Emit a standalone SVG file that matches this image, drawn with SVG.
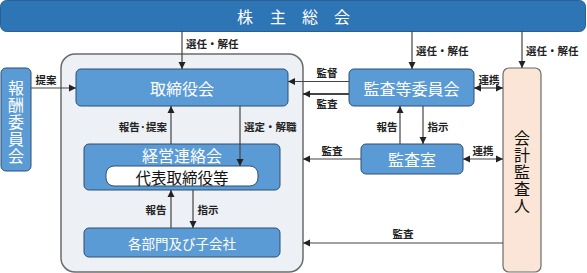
<svg xmlns="http://www.w3.org/2000/svg" width="587" height="273" viewBox="0 0 587 273">
<defs>
<marker id="ah" markerWidth="8" markerHeight="8" refX="7" refY="4" orient="auto-start-reverse" markerUnits="userSpaceOnUse">
<path d="M0,0.5 L7,4 L0,7.5 Z" fill="#222"/>
</marker>
<style>
text{font-family:"Noto Sans CJK JP","Noto Sans",sans-serif;dominant-baseline:central}
.node{fill:#5b9bd5;stroke:#2f4f70;stroke-width:1}
.nt{fill:#fff;font-size:16px;text-anchor:middle}
.vt{writing-mode:vertical-rl;text-orientation:upright;letter-spacing:1px;text-anchor:middle;font-size:16px}
.lbl{fill:#222;font-size:10.5px;font-weight:bold}
.c{text-anchor:middle}
.ln{stroke:#444;stroke-width:1.2;fill:none;marker-end:url(#ah)}
.both{marker-start:url(#ah)}
</style>
</defs>
<g id="shareholders">
<rect x="0.5" y="0.5" width="585" height="31" rx="6" fill="#2e75b6" stroke="#2a5f93"/>
<text class="nt" style="text-anchor:start" x="237 253 270 286 302 318 334" y="16">株 主 総 会</text>
</g>
<g id="company">
<rect x="61" y="54" width="242" height="218" rx="14" fill="#edf0f4" stroke="#6b6b6b" stroke-width="1.5"/>
</g>
<g id="board">
<rect class="node" x="76" y="69" width="212" height="37" rx="5"/>
<text class="nt" x="182" y="87.5">取締役会</text>
</g>
<g id="mgmt">
<rect class="node" x="84" y="144" width="196" height="46" rx="5"/>
<text class="nt" x="182" y="154.5">経営連絡会</text>
<rect x="106" y="166" width="152" height="20" rx="8" fill="#fff" stroke="#2f4f70"/>
<text x="182" y="177" style="font-size:15.5px;text-anchor:middle;fill:#111">代表取締役等</text>
</g>
<g id="depts">
<rect class="node" x="84" y="228" width="196" height="29" rx="5"/>
<text class="nt" x="182" y="242.5" style="font-size:13.5px">各部門及び子会社</text>
</g>
<g id="comp">
<rect class="node" x="1" y="68" width="30" height="103" rx="5"/>
<text class="vt" x="16" y="122.5" fill="#fff">報酬委員会</text>
</g>
<g id="audit-committee">
<rect class="node" x="349" y="69" width="125" height="37" rx="5"/>
<text class="nt" x="411.5" y="87.5">監査等委員会</text>
</g>
<g id="audit-office">
<rect class="node" x="361" y="144" width="102" height="30" rx="5"/>
<text class="nt" x="412" y="159">監査室</text>
</g>
<g id="auditor">
<rect x="503" y="68" width="38" height="204" rx="6" fill="#fbe5d6" stroke="#6b6b6b" stroke-width="1.2"/>
<text class="vt" x="522" y="172.5" fill="#111">会計監査人</text>
</g>
<g id="connectors">
<path class="ln" d="M182,31 V69"/>
<path class="ln" d="M412,31 V69"/>
<path class="ln" d="M522,31 V68"/>
<path class="ln" d="M31,88 H76"/>
<path class="ln" d="M349,81.5 H288"/>
<path class="ln" d="M349,94 H303" style="stroke-width:2"/>
<path class="ln both" d="M474,88 H503"/>
<path class="ln" d="M400,144 V106"/>
<path class="ln" d="M423,106 V144"/>
<path class="ln" d="M361,159 H303"/>
<path class="ln both" d="M463,159 H503"/>
<path class="ln" d="M503,243 H303"/>
<path class="ln" d="M171,144 V106"/>
<path class="ln" d="M240,106 V166"/>
<path class="ln" d="M171,228 V190"/>
<path class="ln" d="M193,190 V228"/>
<text class="lbl" x="186" y="43">選任・解任</text>
<text class="lbl" x="416" y="50">選任・解任</text>
<text class="lbl" x="526" y="50">選任・解任</text>
<text class="lbl c" x="46" y="79">提案</text>
<text class="lbl c" x="327" y="72.5">監督</text>
<text class="lbl c" x="327" y="103">監査</text>
<text class="lbl c" x="489" y="79">連携</text>
<text class="lbl" x="167" y="126" style="text-anchor:end">報告·提案</text>
<text class="lbl" x="244" y="126">選定・解職</text>
<text class="lbl c" x="387" y="126">報告</text>
<text class="lbl c" x="438" y="126">指示</text>
<text class="lbl c" x="332" y="150">監査</text>
<text class="lbl c" x="483" y="150">連携</text>
<text class="lbl c" x="156" y="209">報告</text>
<text class="lbl c" x="208" y="209">指示</text>
<text class="lbl c" x="403" y="233">監査</text>
</g>
</svg>
